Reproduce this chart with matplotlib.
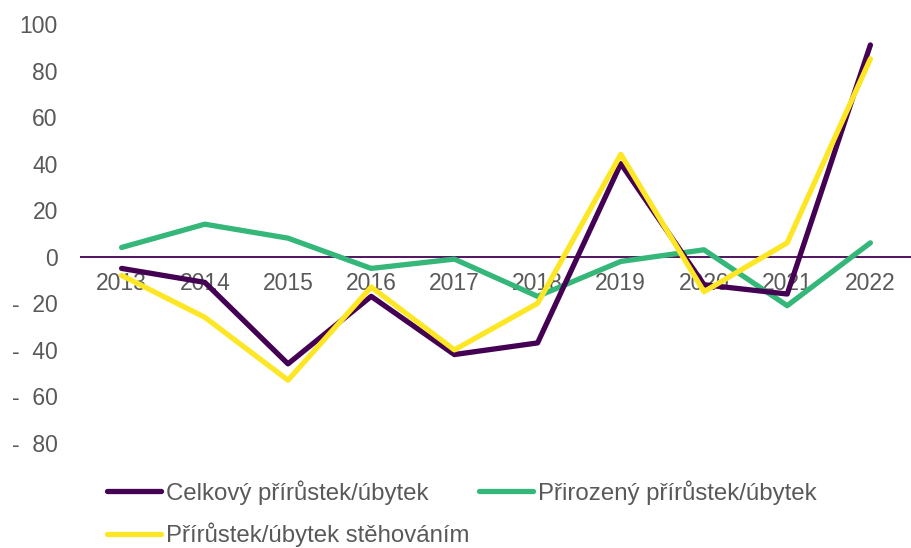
import matplotlib.pyplot as plt

# data
years = ['2013', '2014', '2015', '2016', '2017', '2018', '2019', '2020', '2021', '2022']
celkovy = [-5, -11, -46, -17, -42, -37, 40, -12, -16, 91]
prirozeny = [4, 14, 8, -5, -1, -17, -2, 3, -21, 6]
stehovanim = [-8, -26, -53, -13, -40, -20, 44, -15, 6, 85]
y_ticks = [100, 80, 60, 40, 20, 0, -20, -40, -60, -80]

plt.rcParams['font.family'] = ['Liberation Sans', 'DejaVu Sans']

fig = plt.figure(figsize=(9.12, 5.48), dpi=100)
ax = fig.add_axes([80 / 912, 1 - 443 / 548, 832 / 912, 419 / 548])

x = list(range(len(years)))
l1, = ax.plot(x, celkovy, color='#440154', lw=3.8, solid_capstyle='round',
              label='Celkový přírůstek/úbytek', zorder=3)
l2, = ax.plot(x, prirozeny, color='#35b779', lw=3.8, solid_capstyle='round',
              label='Přirozený přírůstek/úbytek', zorder=2)
l3, = ax.plot(x, stehovanim, color='#fde725', lw=3.8, solid_capstyle='round',
              label='Přírůstek/úbytek stěhováním', zorder=4)

ax.axhline(0, color='#440154', lw=1.3, zorder=1)

ax.set_xlim(-0.5, len(years) - 0.5)
ax.set_ylim(-80, 100)

# y labels in accounting style ("-  20")
labels = []
for v in y_ticks:
    if v < 0:
        labels.append('-  ' + str(-v))
    else:
        labels.append(str(v))
ax.set_yticks(y_ticks)
ax.set_yticklabels(labels)
ax.tick_params(axis='y', length=0, pad=16, labelsize=16.5, labelcolor='#595959')

ax.set_xticks(x)
ax.set_xticklabels(years)
ax.spines['bottom'].set_position(('data', 0))
ax.tick_params(axis='x', length=0, pad=11, labelsize=16.5, labelcolor='#595959')

for s in ax.spines.values():
    s.set_visible(False)

fig.legend([l1, l3, l2], [l1.get_label(), l3.get_label(), l2.get_label()],
           ncol=2, loc='upper left', bbox_to_anchor=(107 / 912, 1 - 480 / 548),
           frameon=False, fontsize=17.3, labelcolor='#595959',
           handlelength=2.25, handletextpad=0.2, columnspacing=0.4,
           labelspacing=0.75, borderpad=0, borderaxespad=0)

fig.savefig('out.png', dpi=100)
